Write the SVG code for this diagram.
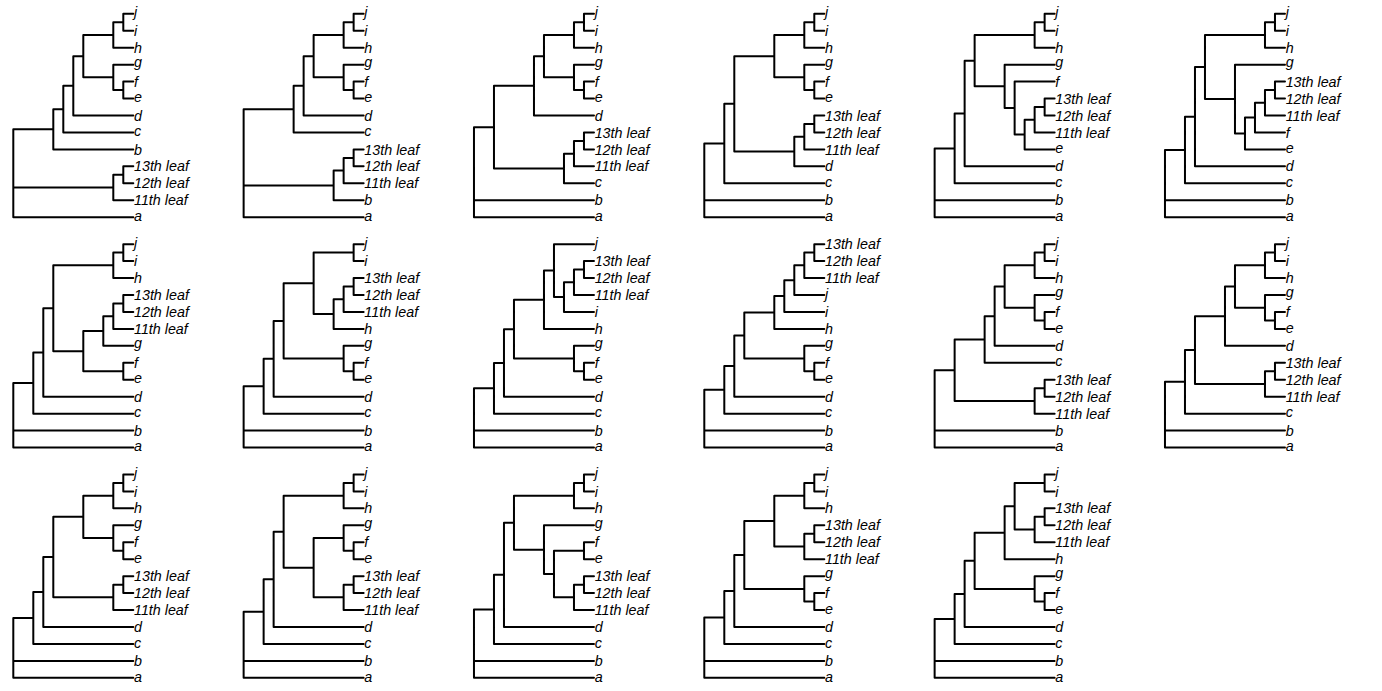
<svg xmlns="http://www.w3.org/2000/svg" width="1382" height="691" viewBox="0 0 1382 691">
<style>
.e{fill:none;stroke:#000;stroke-width:2;vector-effect:non-scaling-stroke;stroke-linecap:round;stroke-linejoin:round}
text{font-family:"Liberation Sans",Arial,sans-serif;font-style:italic;font-size:14.3px;fill:#000}
</style>
<rect width="1382" height="691" fill="#fff"/>
<g id="connectors">
<path id="t1-edges" class="e" transform="translate(13.3,13.8) scale(10,16.95)" d="M12 0H11V1H12M11 0.5H10V2H12M12 3H10V4.5H11M12 4H11V5H12M10 1.25H7V3.75H10M7 2.5H6V6H12M6 4.25H5V7H12M5 5.625H4V8H12M12 9H11V10H12M11 9.5H10V11H12M4 6.8125H0V12H12M0 10.25H10"/>
<path id="t2-edges" class="e" transform="translate(243.63,13.8) scale(10,16.95)" d="M12 0H11V1H12M11 0.5H10V2H12M12 3H10V4.5H11M12 4H11V5H12M10 1.25H7V3.75H10M7 2.5H6V6H12M6 4.25H5V7H12M12 8H11V9H12M11 8.5H10V10H12M10 9.25H9V11H12M5 5.625H0V12H12M0 10.125H9"/>
<path id="t3-edges" class="e" transform="translate(473.97,13.8) scale(10,16.95)" d="M12 0H11V1H12M11 0.5H10V2H12M12 3H10V4.5H11M12 4H11V5H12M10 1.25H7V3.75H10M7 2.5H6V6H12M12 7H11V8H12M11 7.5H10V9H12M10 8.25H9V10H12M6 4.25H2V9.125H9M2 6.6875H0V12H12M0 11H12"/>
<path id="t4-edges" class="e" transform="translate(704.3,13.8) scale(10,16.95)" d="M12 0H11V1H12M11 0.5H10V2H12M12 3H10V4.5H11M12 4H11V5H12M10 1.25H7V3.75H10M12 6H11V7H12M11 6.5H10V8H12M10 7.25H9V9H12M7 2.5H3V8.125H9M3 5.3125H2V10H12M2 7.65625H0V12H12M0 11H12"/>
<path id="t5-edges" class="e" transform="translate(934.63,13.8) scale(10,16.95)" d="M12 0H11V1H12M11 0.5H10V2H12M12 5H11V6H12M11 5.5H10V7H12M10 6.25H9V8H12M12 4H8V7.125H9M12 3H7V5.5625H8M10 1.25H4V4.28125H7M4 2.765625H3V9H12M3 5.8828125H2V10H12M2 7.94140625H0V12H12M0 11H12"/>
<path id="t6-edges" class="e" transform="translate(1164.97,13.8) scale(10,16.95)" d="M12 0H11V1H12M11 0.5H10V2H12M12 4H11V5H12M11 4.5H10V6H12M10 5.25H9V7H12M9 6.125H8V8H12M12 3H7V7.0625H8M10 1.25H4V5.03125H7M4 3.140625H3V9H12M3 6.0703125H2V10H12M2 8.03515625H0V12H12M0 11H12"/>
<path id="t7-edges" class="e" transform="translate(13.3,244.13) scale(10,16.95)" d="M12 0H11V1H12M11 0.5H10V2H12M12 3H11V4H12M11 3.5H10V5H12M10 4.25H9V6H12M12 7H11V8H12M9 5.125H7V7.5H11M10 1.25H4V6.3125H7M4 3.78125H3V9H12M3 6.390625H2V10H12M2 8.1953125H0V12H12M0 11H12"/>
<path id="t8-edges" class="e" transform="translate(243.63,244.13) scale(10,16.95)" d="M12 0H11V1H12M12 2H11V3H12M11 2.5H10V4H12M10 3.25H9V5H12M11 0.5H7V4.125H9M12 6H10V7.5H11M12 7H11V8H12M7 2.3125H4V6.75H10M4 4.53125H3V9H12M3 6.765625H2V10H12M2 8.3828125H0V12H12M0 11H12"/>
<path id="t9-edges" class="e" transform="translate(473.97,244.13) scale(10,16.95)" d="M12 1H11V2H12M11 1.5H10V3H12M10 2.25H9V4H12M12 0H8V3.125H9M8 1.5625H7V5H12M12 6H10V7.5H11M12 7H11V8H12M7 3.28125H4V6.75H10M4 5.015625H3V9H12M3 7.0078125H2V10H12M2 8.50390625H0V12H12M0 11H12"/>
<path id="t10-edges" class="e" transform="translate(704.3,244.13) scale(10,16.95)" d="M12 0H11V1H12M11 0.5H10V2H12M10 1.25H9V3H12M9 2.125H8V4H12M8 3.0625H7V5H12M12 6H10V7.5H11M12 7H11V8H12M7 4.03125H4V6.75H10M4 5.390625H3V9H12M3 7.1953125H2V10H12M2 8.59765625H0V12H12M0 11H12"/>
<path id="t11-edges" class="e" transform="translate(934.63,244.13) scale(10,16.95)" d="M12 0H11V1H12M11 0.5H10V2H12M12 3H10V4.5H11M12 4H11V5H12M10 1.25H7V3.75H10M7 2.5H6V6H12M6 4.25H5V7H12M12 8H11V9H12M11 8.5H10V10H12M5 5.625H2V9.25H10M2 7.4375H0V12H12M0 11H12"/>
<path id="t12-edges" class="e" transform="translate(1164.97,244.13) scale(10,16.95)" d="M12 0H11V1H12M11 0.5H10V2H12M12 3H10V4.5H11M12 4H11V5H12M10 1.25H7V3.75H10M7 2.5H6V6H12M12 7H11V8H12M11 7.5H10V9H12M6 4.25H3V8.25H10M3 6.25H2V10H12M2 8.125H0V12H12M0 11H12"/>
<path id="t13-edges" class="e" transform="translate(13.3,474.47) scale(10,16.95)" d="M12 0H11V1H12M11 0.5H10V2H12M12 3H10V4.5H11M12 4H11V5H12M10 1.25H7V3.75H10M12 6H11V7H12M11 6.5H10V8H12M7 2.5H4V7.25H10M4 4.875H3V9H12M3 6.9375H2V10H12M2 8.46875H0V12H12M0 11H12"/>
<path id="t14-edges" class="e" transform="translate(243.63,474.47) scale(10,16.95)" d="M12 0H11V1H12M11 0.5H10V2H12M12 3H10V4.5H11M12 4H11V5H12M12 6H11V7H12M11 6.5H10V8H12M10 3.75H7V7.25H10M10 1.25H4V5.5H7M4 3.375H3V9H12M3 6.1875H2V10H12M2 8.09375H0V12H12M0 11H12"/>
<path id="t15-edges" class="e" transform="translate(473.97,474.47) scale(10,16.95)" d="M12 0H11V1H12M11 0.5H10V2H12M12 4H11V5H12M12 6H11V7H12M11 6.5H10V8H12M11 4.5H8V7.25H10M12 3H7V5.875H8M10 1.25H4V4.4375H7M4 2.84375H3V9H12M3 5.921875H2V10H12M2 7.9609375H0V12H12M0 11H12"/>
<path id="t16-edges" class="e" transform="translate(704.3,474.47) scale(10,16.95)" d="M12 0H11V1H12M11 0.5H10V2H12M12 3H11V4H12M11 3.5H10V5H12M10 1.25H7V4.25H10M12 6H10V7.5H11M12 7H11V8H12M7 2.75H4V6.75H10M4 4.75H3V9H12M3 6.875H2V10H12M2 8.4375H0V12H12M0 11H12"/>
<path id="t17-edges" class="e" transform="translate(934.63,474.47) scale(10,16.95)" d="M12 0H11V1H12M12 2H11V3H12M11 2.5H10V4H12M11 0.5H8V3.25H10M8 1.875H7V5H12M12 6H10V7.5H11M12 7H11V8H12M7 3.4375H4V6.75H10M4 5.09375H3V9H12M3 7.046875H2V10H12M2 8.5234375H0V12H12M0 11H12"/>
</g>
<g id="tree1" transform="translate(134,0)">
<text y="17.4">j</text><text y="35.85">i</text><text y="52.8">h</text><text y="66.85">g</text><text y="86.8">f</text><text y="102.25">e</text><text y="120.6">d</text><text y="136.15">c</text><text y="154.5">b</text><text y="171.45">13th leaf</text><text y="188.4">12th leaf</text><text y="205.35">11th leaf</text><text y="220.9">a</text>
</g>
<g id="tree2" transform="translate(364.33,0)">
<text y="17.4">j</text><text y="35.85">i</text><text y="52.8">h</text><text y="66.85">g</text><text y="86.8">f</text><text y="102.25">e</text><text y="120.6">d</text><text y="136.15">c</text><text y="154.5">13th leaf</text><text y="171.45">12th leaf</text><text y="188.4">11th leaf</text><text y="205.35">b</text><text y="220.9">a</text>
</g>
<g id="tree3" transform="translate(594.67,0)">
<text y="17.4">j</text><text y="35.85">i</text><text y="52.8">h</text><text y="66.85">g</text><text y="86.8">f</text><text y="102.25">e</text><text y="120.6">d</text><text y="137.55">13th leaf</text><text y="154.5">12th leaf</text><text y="171.45">11th leaf</text><text y="187">c</text><text y="205.35">b</text><text y="220.9">a</text>
</g>
<g id="tree4" transform="translate(825,0)">
<text y="17.4">j</text><text y="35.85">i</text><text y="52.8">h</text><text y="66.85">g</text><text y="86.8">f</text><text y="102.25">e</text><text y="120.6">13th leaf</text><text y="137.55">12th leaf</text><text y="154.5">11th leaf</text><text y="171.45">d</text><text y="187">c</text><text y="205.35">b</text><text y="220.9">a</text>
</g>
<g id="tree5" transform="translate(1055.33,0)">
<text y="17.4">j</text><text y="35.85">i</text><text y="52.8">h</text><text y="66.85">g</text><text y="86.8">f</text><text y="103.65">13th leaf</text><text y="120.6">12th leaf</text><text y="137.55">11th leaf</text><text y="153.1">e</text><text y="171.45">d</text><text y="187">c</text><text y="205.35">b</text><text y="220.9">a</text>
</g>
<g id="tree6" transform="translate(1285.67,0)">
<text y="17.4">j</text><text y="35.85">i</text><text y="52.8">h</text><text y="66.85">g</text><text y="86.7">13th leaf</text><text y="103.65">12th leaf</text><text y="120.6">11th leaf</text><text y="137.65">f</text><text y="153.1">e</text><text y="171.45">d</text><text y="187">c</text><text y="205.35">b</text><text y="220.9">a</text>
</g>
<g id="tree7" transform="translate(134,230.33)">
<text y="17.4">j</text><text y="35.85">i</text><text y="52.8">h</text><text y="69.75">13th leaf</text><text y="86.7">12th leaf</text><text y="103.65">11th leaf</text><text y="117.7">g</text><text y="137.65">f</text><text y="153.1">e</text><text y="171.45">d</text><text y="187">c</text><text y="205.35">b</text><text y="220.9">a</text>
</g>
<g id="tree8" transform="translate(364.33,230.33)">
<text y="17.4">j</text><text y="35.85">i</text><text y="52.8">13th leaf</text><text y="69.75">12th leaf</text><text y="86.7">11th leaf</text><text y="103.65">h</text><text y="117.7">g</text><text y="137.65">f</text><text y="153.1">e</text><text y="171.45">d</text><text y="187">c</text><text y="205.35">b</text><text y="220.9">a</text>
</g>
<g id="tree9" transform="translate(594.67,230.33)">
<text y="17.4">j</text><text y="35.85">13th leaf</text><text y="52.8">12th leaf</text><text y="69.75">11th leaf</text><text y="86.7">i</text><text y="103.65">h</text><text y="117.7">g</text><text y="137.65">f</text><text y="153.1">e</text><text y="171.45">d</text><text y="187">c</text><text y="205.35">b</text><text y="220.9">a</text>
</g>
<g id="tree10" transform="translate(825,230.33)">
<text y="18.9">13th leaf</text><text y="35.85">12th leaf</text><text y="52.8">11th leaf</text><text y="68.25">j</text><text y="86.7">i</text><text y="103.65">h</text><text y="117.7">g</text><text y="137.65">f</text><text y="153.1">e</text><text y="171.45">d</text><text y="187">c</text><text y="205.35">b</text><text y="220.9">a</text>
</g>
<g id="tree11" transform="translate(1055.33,230.33)">
<text y="17.4">j</text><text y="35.85">i</text><text y="52.8">h</text><text y="66.85">g</text><text y="86.8">f</text><text y="102.25">e</text><text y="120.6">d</text><text y="136.15">c</text><text y="154.5">13th leaf</text><text y="171.45">12th leaf</text><text y="188.4">11th leaf</text><text y="205.35">b</text><text y="220.9">a</text>
</g>
<g id="tree12" transform="translate(1285.67,230.33)">
<text y="17.4">j</text><text y="35.85">i</text><text y="52.8">h</text><text y="66.85">g</text><text y="86.8">f</text><text y="102.25">e</text><text y="120.6">d</text><text y="137.55">13th leaf</text><text y="154.5">12th leaf</text><text y="171.45">11th leaf</text><text y="187">c</text><text y="205.35">b</text><text y="220.9">a</text>
</g>
<g id="tree13" transform="translate(134,460.67)">
<text y="17.4">j</text><text y="35.85">i</text><text y="52.8">h</text><text y="66.85">g</text><text y="86.8">f</text><text y="102.25">e</text><text y="120.6">13th leaf</text><text y="137.55">12th leaf</text><text y="154.5">11th leaf</text><text y="171.45">d</text><text y="187">c</text><text y="205.35">b</text><text y="220.9">a</text>
</g>
<g id="tree14" transform="translate(364.33,460.67)">
<text y="17.4">j</text><text y="35.85">i</text><text y="52.8">h</text><text y="66.85">g</text><text y="86.8">f</text><text y="102.25">e</text><text y="120.6">13th leaf</text><text y="137.55">12th leaf</text><text y="154.5">11th leaf</text><text y="171.45">d</text><text y="187">c</text><text y="205.35">b</text><text y="220.9">a</text>
</g>
<g id="tree15" transform="translate(594.67,460.67)">
<text y="17.4">j</text><text y="35.85">i</text><text y="52.8">h</text><text y="66.85">g</text><text y="86.8">f</text><text y="102.25">e</text><text y="120.6">13th leaf</text><text y="137.55">12th leaf</text><text y="154.5">11th leaf</text><text y="171.45">d</text><text y="187">c</text><text y="205.35">b</text><text y="220.9">a</text>
</g>
<g id="tree16" transform="translate(825,460.67)">
<text y="17.4">j</text><text y="35.85">i</text><text y="52.8">h</text><text y="69.75">13th leaf</text><text y="86.7">12th leaf</text><text y="103.65">11th leaf</text><text y="117.7">g</text><text y="137.65">f</text><text y="153.1">e</text><text y="171.45">d</text><text y="187">c</text><text y="205.35">b</text><text y="220.9">a</text>
</g>
<g id="tree17" transform="translate(1055.33,460.67)">
<text y="17.4">j</text><text y="35.85">i</text><text y="52.8">13th leaf</text><text y="69.75">12th leaf</text><text y="86.7">11th leaf</text><text y="103.65">h</text><text y="117.7">g</text><text y="137.65">f</text><text y="153.1">e</text><text y="171.45">d</text><text y="187">c</text><text y="205.35">b</text><text y="220.9">a</text>
</g>
</svg>
